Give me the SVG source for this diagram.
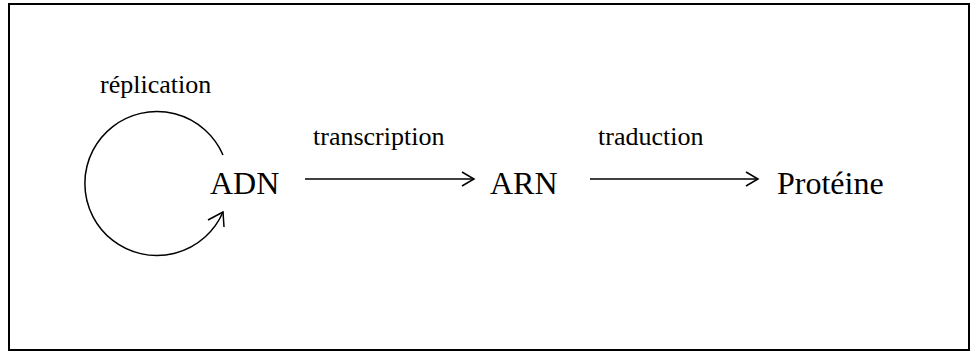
<svg xmlns="http://www.w3.org/2000/svg" width="972" height="352" viewBox="0 0 972 352">
<style>
.big{font-family:"Liberation Serif","Times New Roman",serif;font-size:32px;fill:#000}
.lbl{font-family:"Liberation Serif","Times New Roman",serif;font-size:26px;fill:#000}
.ln{fill:none;stroke:#000;stroke-width:1.5}
</style>
<defs>
<marker id="ah" markerUnits="userSpaceOnUse" markerWidth="20" markerHeight="20" refX="0" refY="0" viewBox="-14 -10 16 20" orient="auto" overflow="visible">
<path d="M-12,-7 L0,0 L-12,7" fill="none" stroke="#000" stroke-width="1.5"/>
</marker>
</defs>
<rect x="9" y="4" width="960" height="346" fill="#fff" stroke="#000" stroke-width="2"/>
<g id="connectors">
<path class="ln" d="M223,155 A72,72 0 1 0 223,212"/>
<polyline class="ln" points="208,220 223,212 224,227"/>
<line class="ln" x1="305" y1="179" x2="474" y2="179" marker-end="url(#ah)"/>
<line class="ln" x1="590" y1="179" x2="758" y2="179" marker-end="url(#ah)"/>
<text class="lbl" x="100" y="93">réplication</text>
<text class="lbl" x="313" y="145">transcription</text>
<text class="lbl" x="598" y="145">traduction</text>
</g>
<g id="adn"><text class="big" x="210" y="194">ADN</text></g>
<g id="arn"><text class="big" x="490" y="194">ARN</text></g>
<g id="proteine"><text class="big" x="777" y="194">Protéine</text></g>
</svg>
